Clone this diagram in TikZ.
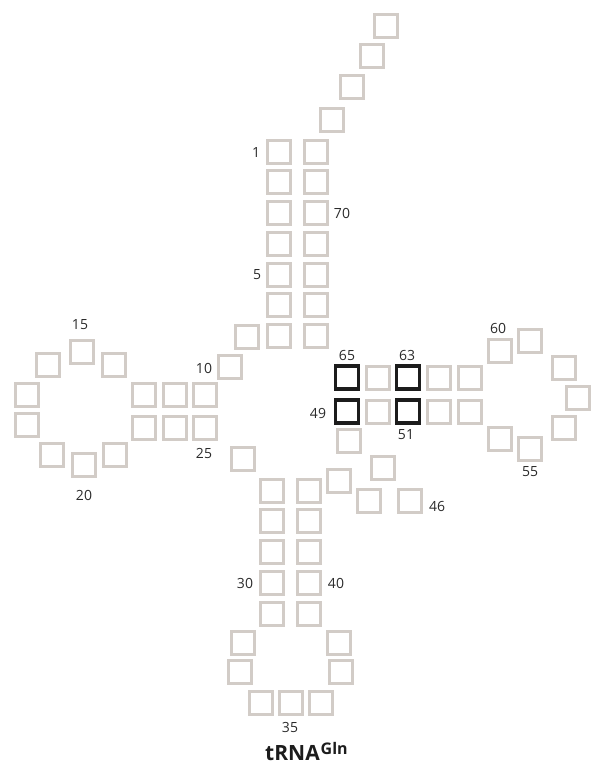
\documentclass[tikz,border=0pt]{standalone}
\usepackage{fontspec}
\setmainfont{Open Sans}
\usepackage{tikz}
\usetikzlibrary{positioning}
\definecolor{NtGray}{HTML}{D2CCC7}
\definecolor{KeyInk}{HTML}{1C1C1C}
\definecolor{LabelInk}{HTML}{2B2B2B}

\begin{document}
\begin{tikzpicture}[
  x=1pt,y=-1pt,
  nt/.style={draw=NtGray,line width=3pt,minimum size=23pt,inner sep=0pt},
  ntkey/.style={nt,draw=KeyInk,line width=3.4pt},
  num/.style={text=LabelInk,font=\fontsize{14}{16}\selectfont,inner sep=0pt},
]
  \useasboundingbox (0,0) rectangle (591,763);

  \node[nt] (nt1) at (279,152) {};
  \node[nt] (nt2) at (279,182) {};
  \node[nt] (nt3) at (279,213) {};
  \node[nt] (nt4) at (279,244) {};
  \node[nt] (nt5) at (279,275) {};
  \node[nt] (nt6) at (279,305) {};
  \node[nt] (nt7) at (279,336) {};
  \node[nt] (nt8) at (247,337) {};
  \node[nt] (nt9) at (230,367) {};

  \node[nt] (nt10) at (205,394.5) {};
  \node[nt] (nt11) at (174.5,394.5) {};
  \node[nt] (nt12) at (144,394.5) {};
  \node[nt] (nt13) at (114,364.5) {};
  \node[nt] (nt14) at (82,351.5) {};
  \node[nt] (nt15) at (48,365) {};
  \node[nt] (nt16) at (27,395) {};
  \node[nt] (nt18) at (27,425) {};
  \node[nt] (nt19) at (52,455) {};
  \node[nt] (nt20) at (83.5,465) {};
  \node[nt] (nt21) at (115,455) {};
  \node[nt] (nt23) at (144,427.5) {};
  \node[nt] (nt24) at (174.5,427.5) {};
  \node[nt] (nt25) at (205,427.5) {};
  \node[nt] (nt26) at (243,459) {};

  \node[nt] (nt27) at (272,490.5) {};
  \node[nt] (nt28) at (272,521) {};
  \node[nt] (nt29) at (272,551.5) {};
  \node[nt] (nt30) at (272,582.5) {};
  \node[nt] (nt31) at (272,613.5) {};
  \node[nt] (nt32) at (243,642.5) {};
  \node[nt] (nt33) at (240,672) {};
  \node[nt] (nt34) at (260.5,702.5) {};
  \node[nt] (nt35) at (290.5,702.5) {};
  \node[nt] (nt36) at (321,702.5) {};
  \node[nt] (nt37) at (341,672) {};
  \node[nt] (nt38) at (339,642.5) {};
  \node[nt] (nt39) at (309,613.5) {};
  \node[nt] (nt40) at (309,582.5) {};
  \node[nt] (nt41) at (309,551.5) {};
  \node[nt] (nt42) at (309,521) {};
  \node[nt] (nt43) at (309,490.5) {};

  \node[nt] (nt44) at (339,481) {};
  \node[nt] (nt45) at (369,501) {};
  \node[nt] (nt46) at (410,501) {};
  \node[nt] (nt47) at (383,468) {};
  \node[nt] (nt48) at (348.5,440.5) {};

  \node[ntkey] (nt49) at (347,411.5) {};
  \node[nt] (nt50) at (377.5,411.5) {};
  \node[ntkey] (nt51) at (408,411.5) {};
  \node[nt] (nt52) at (439,411.5) {};
  \node[nt] (nt53) at (470,411.5) {};
  \node[nt] (nt54) at (500,438.5) {};
  \node[nt] (nt55) at (530,448.5) {};
  \node[nt] (nt56) at (564,427.5) {};
  \node[nt] (nt57) at (578,397.5) {};
  \node[nt] (nt58) at (564,367.5) {};
  \node[nt] (nt59) at (530,341) {};
  \node[nt] (nt60) at (500,351) {};
  \node[nt] (nt61) at (470,377.5) {};
  \node[nt] (nt62) at (439,377.5) {};
  \node[ntkey] (nt63) at (408,377.5) {};
  \node[nt] (nt64) at (377.5,377.5) {};
  \node[ntkey] (nt65) at (347,377.5) {};

  \node[nt] (nt66) at (315.5,336) {};
  \node[nt] (nt67) at (315.5,305) {};
  \node[nt] (nt68) at (315.5,275) {};
  \node[nt] (nt69) at (315.5,244) {};
  \node[nt] (nt70) at (315.5,213) {};
  \node[nt] (nt71) at (315.5,182) {};
  \node[nt] (nt72) at (315.5,152) {};
  \node[nt] (nt73) at (332,119.5) {};
  \node[nt] (nt74) at (352,86.5) {};
  \node[nt] (nt75) at (372,56) {};
  \node[nt] (nt76) at (386,26) {};

  \node[num] (lab1) at (256,152) {1};
  \node[num] (lab5) at (257,275) {5};
  \node[num] (lab10) at (204,368) {10};
  \node[num] (lab15) at (80,325) {15};
  \node[num] (lab20) at (84,495) {20};
  \node[num] (lab25) at (204,453) {25};
  \node[num] (lab30) at (245,583) {30};
  \node[num] (lab35) at (290,727) {35};
  \node[num] (lab40) at (336,583) {40};
  \node[num] (lab46) at (437,506) {46};
  \node[num] (lab49) at (318,413) {49};
  \node[num] (lab51) at (406,435) {51};
  \node[num] (lab55) at (530,472) {55};
  \node[num] (lab60) at (498,328) {60};
  \node[num] (lab63) at (407,355) {63};
  \node[num] (lab65) at (347,355) {65};
  \node[num] (lab70) at (342,213) {70};

  \node[text=KeyInk,font=\fontsize{21}{23}\selectfont\bfseries,inner sep=0pt,anchor=base west]
    (title) at (265,760.5) {tRNA\kern1pt\raisebox{6.5pt}{\fontsize{16}{17}\selectfont Gln}};
\end{tikzpicture}
\end{document}
